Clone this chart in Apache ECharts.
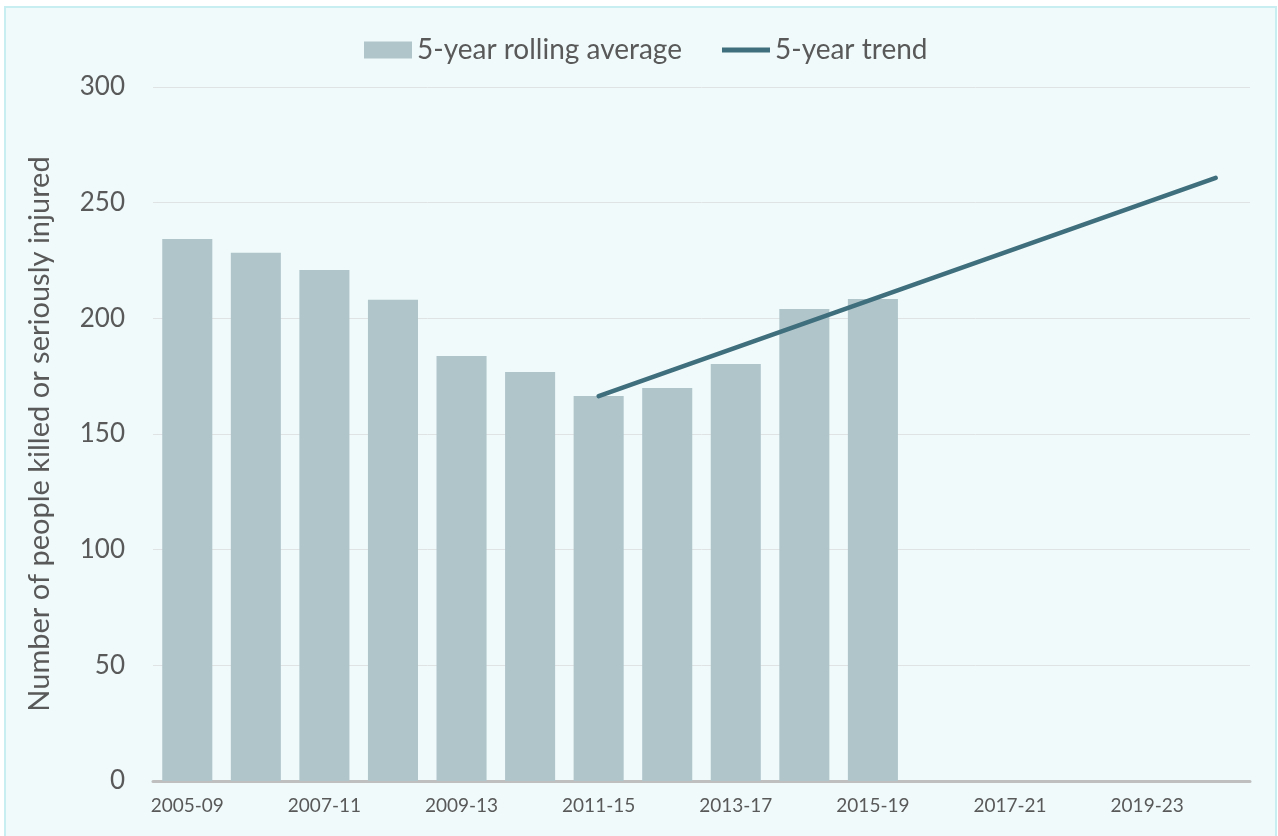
<!DOCTYPE html>
<html>
<head>
<meta charset="utf-8">
<script src="https://cdn.jsdelivr.net/npm/echarts@6/dist/echarts.min.js"></script>
<style>
html,body{margin:0;padding:0;background:#ffffff;}
#chart{position:absolute;left:0;top:0;width:1278px;height:836px;}
</style>
</head>
<body>
<div id="chart"></div>
<script>
const categories = ['2005-09','2006-10','2007-11','2008-12','2009-13','2010-14','2011-15','2012-16','2013-17','2014-18','2015-19','2016-20','2017-21','2018-22','2019-23','2020-24'];
const rollingAverage = [234.3, 228.3, 220.9, 208.0, 183.7, 176.8, 166.4, 169.9, 180.3, 204.0, 208.4, null, null, null, null, null];
const trend = [null, null, null, null, null, null, 166.4, null, null, null, null, null, null, null, null, 260.7];
const yTicks = [0, 50, 100, 150, 200, 250, 300];

const FONT = 'Lato, "Open Sans", sans-serif';
const chart = echarts.init(document.getElementById('chart'), null, {renderer: 'canvas'});
chart.setOption({
  animation: false,
  backgroundColor: '#ffffff',
  graphic: [{
    type: 'rect', z: -10, silent: true,
    shape: {x: 5, y: 7, width: 1271, height: 840},
    style: {fill: '#f0fafb', stroke: '#c9eef1', lineWidth: 2}
  }],
  legend: {
    top: 31, left: 359,
    itemGap: 40, itemWidth: 48, itemHeight: 17,
    textStyle: {fontFamily: FONT, fontSize: 28, color: '#595959'},
    data: [
      {name: '5-year rolling average', icon: 'rect'},
      {name: '5-year trend', icon: 'path://M0,0 L50,0 L50,5 L0,5 Z', itemStyle: {color: '#3f6e7c'}}
    ]
  },
  grid: {left: 153, right: 28, top: 87, bottom: 55},
  xAxis: {
    type: 'category',
    data: categories,
    axisTick: {show: false},
    axisLine: {lineStyle: {color: '#bfbfbf', width: 3}},
    axisLabel: {interval: 1, fontFamily: FONT, fontSize: 19, color: '#595959', margin: 15}
  },
  yAxis: {
    type: 'value',
    min: yTicks[0], max: yTicks[yTicks.length-1], interval: 50,
    name: 'Number of people killed or seriously injured',
    nameLocation: 'middle', nameGap: 99,
    nameTextStyle: {fontFamily: FONT, fontSize: 29, color: '#595959'},
    axisLine: {show: false}, axisTick: {show: false},
    axisLabel: {fontFamily: FONT, fontSize: 26, color: '#595959', margin: 28},
    splitLine: {lineStyle: {color: '#dfe3e3', width: 1}}
  },
  series: [
    {
      name: '5-year rolling average', type: 'bar',
      data: rollingAverage,
      barCategoryGap: '27%',
      itemStyle: {color: '#b0c5ca'}
    },
    {
      name: '5-year trend', type: 'line',
      data: trend, connectNulls: true,
      symbol: 'none',
      lineStyle: {color: '#3f6e7c', width: 4.5, cap: 'round'},
      itemStyle: {color: '#3f6e7c'}
    }
  ]
});
</script>
</body>
</html>
